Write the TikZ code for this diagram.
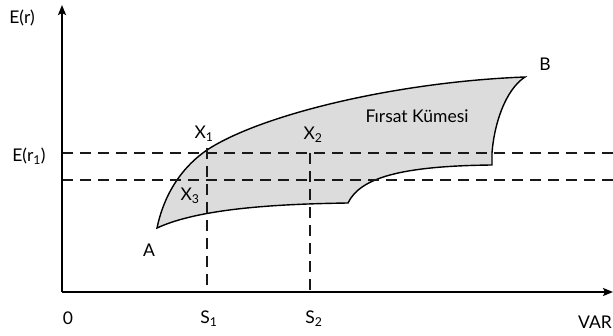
\documentclass[tikz,border=0pt]{standalone}
\usepackage{fontspec}
\setmainfont{Lato}
\usepackage{tikz}
\usetikzlibrary{arrows.meta,positioning,calc}
\definecolor{setgrey}{RGB}{220,220,220}

\begin{document}
\begin{tikzpicture}[x=1pt, y=-1pt,
    axis/.style={-{Stealth[length=10pt,width=8pt,inset=2pt]}, line width=2pt, black},
    guide/.style={dashed, dash pattern=on 11pt off 7pt, line width=1.6pt, black!90},
    region/.style={draw=black, fill=setgrey, line width=1.4pt, line join=miter},
    lbl/.style={font=\fontsize{17.5}{19}\selectfont, inner sep=1pt}
]
\useasboundingbox (0,0) rectangle (613,336);
\coordinate (origin) at (62,292);
\coordinate (ytop) at (62,5);
\coordinate (xend) at (613,292);

% opportunity set
\filldraw[region] (157,228) .. controls (165,190) and (185,165) .. (207,150)
      .. controls (260,115) and (395,82) .. (525,77)
      .. controls (505,90) and (494,125) .. (492,153) -- (492,165)
      .. controls (400,166) and (360,178) .. (348,203)
      .. controls (280,204) and (200,208) .. cycle;

% guides
\coordinate (er1) at (62,153);
\coordinate (er2) at (62,180);
\coordinate (s1top) at (207,148);
\coordinate (s2top) at (310,153);
\draw[guide] (er1) -- (613,153);
\draw[guide] (er2) -- (613,180);
\draw[guide] (s1top) -- (s1top |- origin);
\draw[guide] (s2top) -- (s2top |- origin);

% axes
\draw[axis] (origin) -- (ytop);
\draw[axis] (origin) -- (xend);

\node[lbl] (yname) at (22,18) {E(r)};
\node[lbl] (er1lbl) at (29,156) {E(r\textsubscript{1})};
\node[lbl] (zero) at (68,318) {0};
\node[lbl] (s1lbl) at (209,319) {S\textsubscript{1}};
\node[lbl] (s2lbl) at (314,319) {S\textsubscript{2}};
\node[lbl, anchor=west] (xname) at (577,322) {VAR};
\node[lbl] (x1) at (204,134) {X\textsubscript{1}};
\node[lbl] (x2) at (313,135) {X\textsubscript{2}};
\node[lbl] (x3) at (190,196) {X\textsubscript{3}};
\node[lbl] (pa) at (149,250) {A};
\node[lbl] (pb) at (545,64) {B};
\node[lbl] (setname) at (417,116) {Fırsat Kümesi};
\end{tikzpicture}
\end{document}
